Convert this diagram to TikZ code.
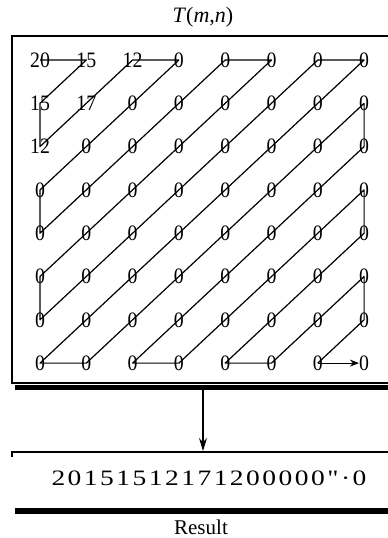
\documentclass[tikz,border=0pt]{standalone}
\usepackage{fontspec}
\setmainfont{Liberation Serif}
\newfontfamily\spacedfont[LetterSpace=9]{Liberation Serif}
\usetikzlibrary{arrows.meta}
\tikzset{
  num/.style={inner sep=0pt, font=\fontsize{22}{22}\selectfont},
  conn/.style={line width=1.2pt, line join=round},
  frameline/.style={line width=1.4pt},
  shadowbar/.style={fill=black, draw=none},
}
\newcommand{\cellnum}[1]{\scalebox{0.9}[1]{#1}}
\begin{document}
\begin{tikzpicture}[x=1pt,y=-1pt]
\useasboundingbox (0,0) rectangle (388,538);
% title
\node[anchor=base, inner sep=0pt, font=\fontsize{22}{22}\selectfont] (title) at (203,22) {\textit{T}(\textit{m},\textit{n})};
% frame
\draw[frameline] (388,36) -- (12,36) -- (12,383) -- (388,383);
\fill[shadowbar] (15,385) rectangle (388,390);
% grid numbers
\foreach \r/\vals in {0/{20,15,12,0,0,0,0,0},1/{15,17,0,0,0,0,0,0},2/{12,0,0,0,0,0,0,0},3/{0,0,0,0,0,0,0,0},4/{0,0,0,0,0,0,0,0},5/{0,0,0,0,0,0,0,0},6/{0,0,0,0,0,0,0,0},7/{0,0,0,0,0,0,0,0}}{
  \foreach \v [count=\ci from 0] in \vals {
    \node[num] (n-\r-\ci) at ({40+46.3*\ci},{60+43.3*\r}) {\cellnum{\v}};
  }
}
% zigzag path
\draw[conn] (n-0-0.center) -- (n-0-1.center) -- (n-1-0.center) -- (n-2-0.center)
  -- (n-0-2.center) -- (n-0-3.center) -- (n-3-0.center) -- (n-4-0.center)
  -- (n-0-4.center) -- (n-0-5.center) -- (n-5-0.center) -- (n-6-0.center)
  -- (n-0-6.center) -- (n-0-7.center) -- (n-7-0.center) -- (n-7-1.center)
  -- (n-1-7.center) -- (n-2-7.center) -- (n-7-2.center) -- (n-7-3.center)
  -- (n-3-7.center) -- (n-4-7.center) -- (n-7-4.center) -- (n-7-5.center)
  -- (n-5-7.center) -- (n-6-7.center) -- (n-7-6.center);
\draw[conn, -{Stealth[length=9pt,width=7pt]}] (n-7-6.center) -- (n-7-7.west);
% result box
\coordinate (arrstart) at (203,390);
\node[anchor=base, inner sep=0pt, font=\spacedfont\fontsize{22}{22}\selectfont] (res) at (209,485) {\scalebox{1.25}[1]{20151512171200000"·0}};
\draw[line width=1.1pt, -{Stealth[length=13pt,width=8pt]}] (arrstart) -- (203,451);
\draw[frameline] (12,457) -- (12,452) -- (388,452);
\fill[shadowbar] (15,508) rectangle (388,514);
\node[anchor=base, inner sep=0pt, font=\fontsize{21}{21}\selectfont] (lbl) at (201,534) {Result};
\end{tikzpicture}
\end{document}
